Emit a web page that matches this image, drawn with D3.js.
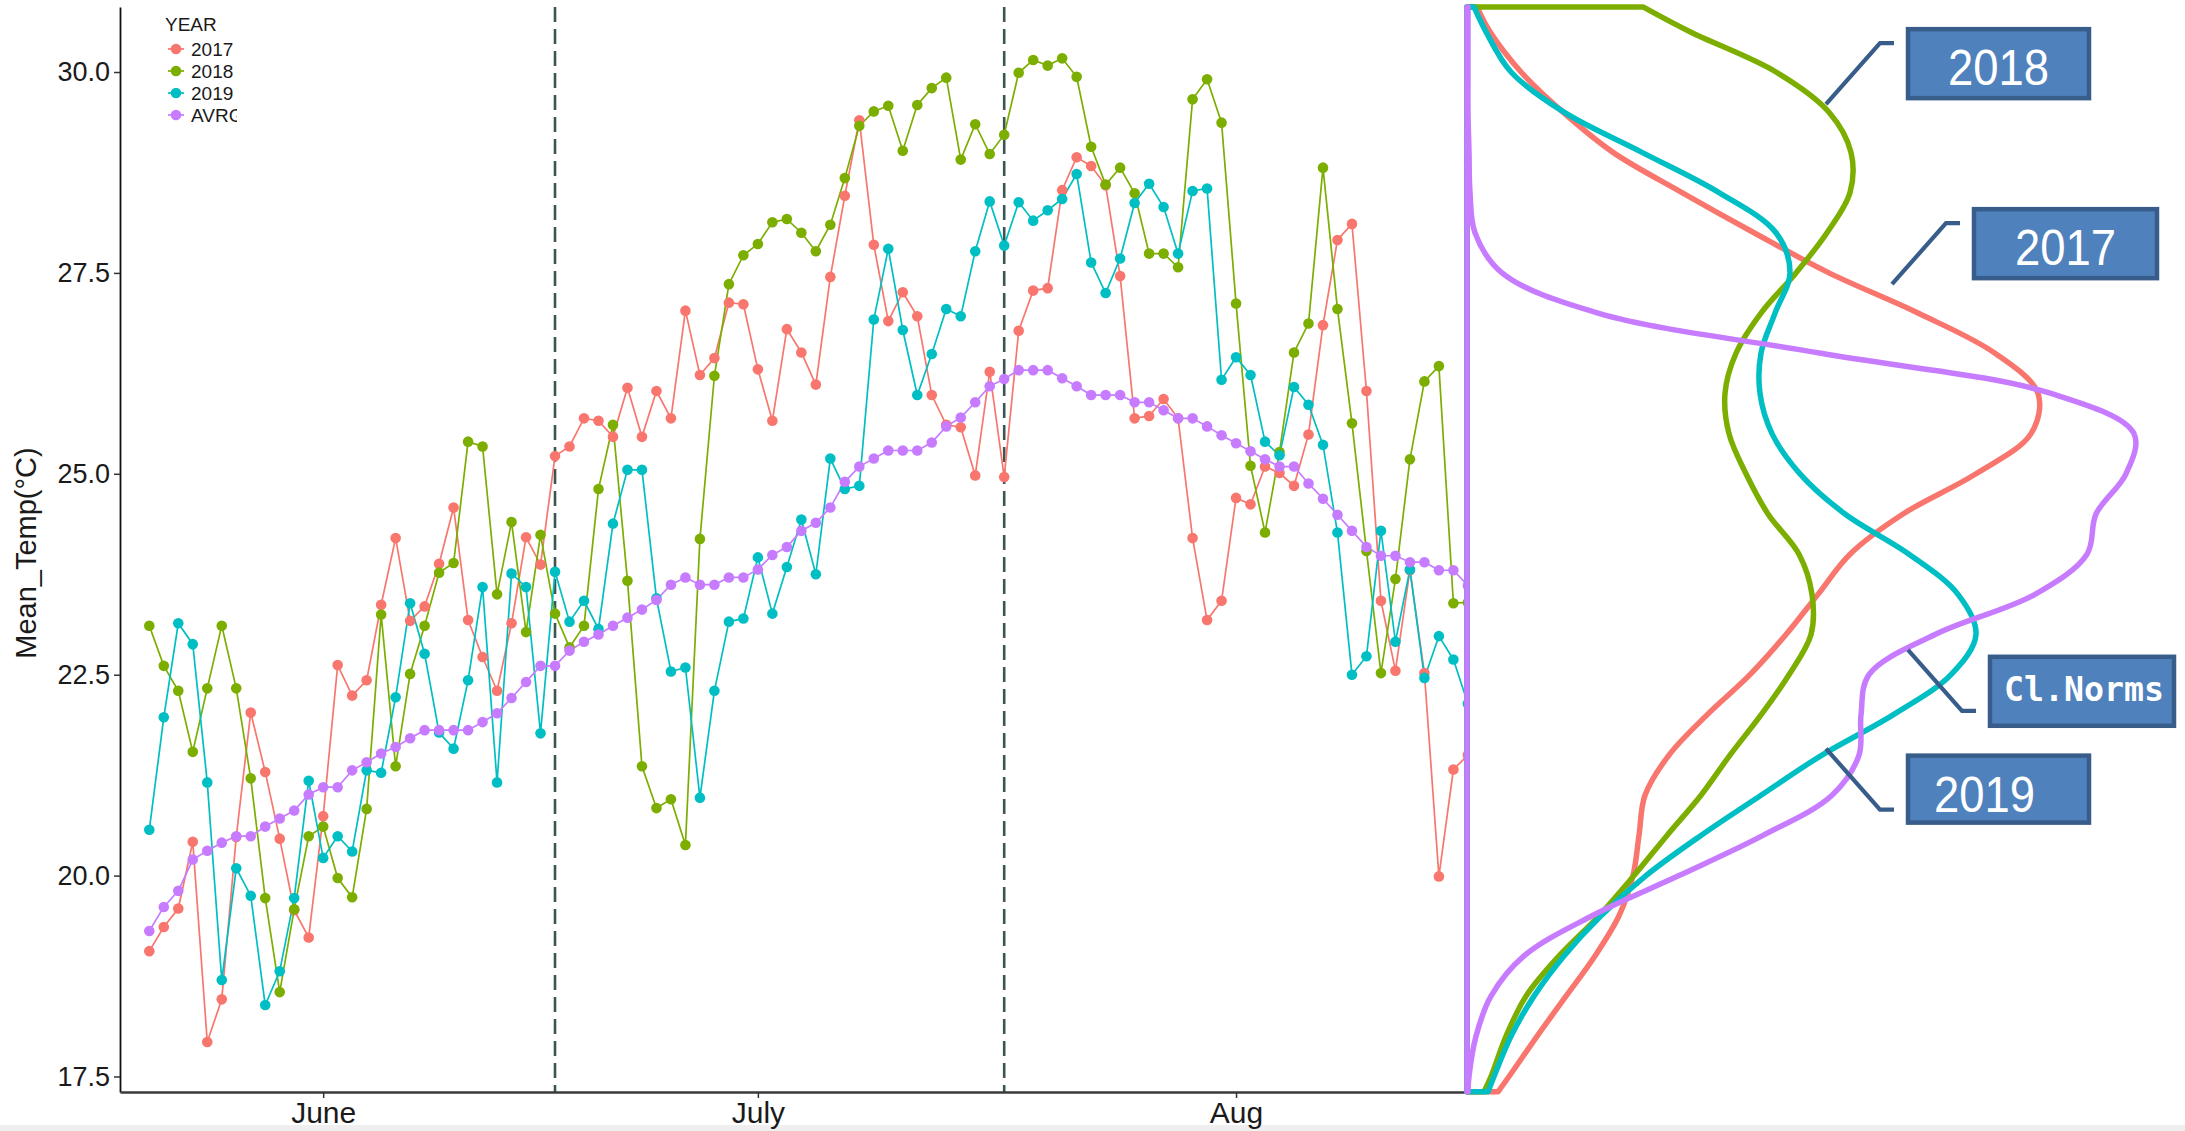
<!DOCTYPE html>
<html>
<head>
<meta charset="utf-8">
<script src="https://cdnjs.cloudflare.com/ajax/libs/d3/7.8.5/d3.min.js"></script>
<style>
  body { margin: 0; background: #fff; }
  svg { display: block; }
  text { font-family: "Liberation Sans", Arial, sans-serif; }
</style>
</head>
<body>
<svg id="chart" width="2185" height="1131"></svg>
<script>
const years = ['2017', '2018', '2019', 'AVRG'];
const colors = ['#F8766D', '#7CAE00', '#00BFC4', '#C77CFF'];

// daily mean temperature, one value per day (index 0 = first plotted day)
const t2017 = [19.06, 19.36, 19.59, 20.42, 17.93, 18.46, 20.48, 22.03, 21.29, 20.46,
  19.57, 19.23, 20.74, 22.62, 22.24, 22.43, 23.37, 24.20, 23.17, 23.35,
  23.88, 24.58, 23.18, 22.72, 22.30, 23.14, 24.21, 23.87, 25.22, 25.34,
  25.69, 25.66, 25.46, 26.07, 25.46, 26.03, 25.69, 27.03, 26.23, 26.44,
  27.13, 27.11, 26.30, 25.66, 26.80, 26.51, 26.11, 27.45, 28.46, 29.40,
  27.85, 26.90, 27.26, 26.96, 25.98, 25.61, 25.58, 24.98, 26.27, 24.96,
  26.78, 27.28, 27.31, 28.53, 28.94, 28.83, 28.59, 27.46, 25.69, 25.72,
  25.93, 25.69, 24.20, 23.18, 23.42, 24.70, 24.62, 25.09, 25.01, 24.85,
  25.49, 26.85, 27.91, 28.11, 26.03, 23.42, 22.55, 23.80, 22.52, 19.99,
  21.32, 21.50];
const t2018 = [23.11, 22.61, 22.30, 21.54, 22.33, 23.11, 22.33, 21.21, 19.72, 18.55,
  19.58, 20.49, 20.61, 19.97, 19.73, 20.83, 23.25, 21.36, 22.51, 23.11,
  23.77, 23.89, 25.40, 25.34, 23.50, 24.40, 23.03, 24.24, 23.26, 22.84,
  23.11, 24.81, 25.61, 23.67, 21.36, 20.84, 20.95, 20.38, 24.19, 26.22,
  27.36, 27.72, 27.86, 28.13, 28.17, 28.00, 27.77, 28.10, 28.68, 29.33,
  29.51, 29.58, 29.02, 29.59, 29.80, 29.93, 28.91, 29.35, 28.98, 29.22,
  29.99, 30.15, 30.08, 30.17, 29.94, 29.07, 28.60, 28.81, 28.49, 27.74,
  27.74, 27.57, 29.66, 29.91, 29.37, 27.12, 25.10, 24.27, 25.27, 26.51,
  26.87, 28.81, 27.05, 25.63, 24.04, 22.52, 23.69, 25.18, 26.15, 26.34,
  23.39, 23.40];
const t2019 = [20.57, 21.97, 23.14, 22.88, 21.16, 18.70, 20.09, 19.75, 18.39, 18.81,
  19.72, 21.18, 20.22, 20.49, 20.30, 21.31, 21.28, 22.22, 23.39, 22.76,
  21.78, 21.58, 22.43, 23.59, 21.16, 23.76, 23.59, 21.77, 23.78, 23.16,
  23.42, 23.07, 24.38, 25.05, 25.05, 23.45, 22.54, 22.59, 20.97, 22.30,
  23.16, 23.20, 23.96, 23.26, 23.84, 24.43, 23.75, 25.19, 24.81, 24.85,
  26.92, 27.80, 26.79, 25.98, 26.49, 27.05, 26.96, 27.77, 28.39, 27.84,
  28.38, 28.15, 28.28, 28.42, 28.73, 27.63, 27.25, 27.68, 28.37, 28.61,
  28.32, 27.74, 28.52, 28.55, 26.17, 26.45, 26.23, 25.40, 25.23, 26.08,
  25.86, 25.36, 24.27, 22.50, 22.73, 24.29, 22.91, 23.81, 22.46, 22.98,
  22.69, 22.14];
const tAvrg = [19.31, 19.61, 19.81, 20.20, 20.31, 20.41, 20.49, 20.49, 20.61, 20.71,
  20.81, 21.01, 21.10, 21.10, 21.31, 21.41, 21.52, 21.60, 21.71, 21.81,
  21.81, 21.81, 21.81, 21.91, 22.02, 22.21, 22.41, 22.61, 22.61, 22.80,
  22.91, 23.00, 23.11, 23.21, 23.31, 23.43, 23.62, 23.71, 23.62, 23.62,
  23.71, 23.71, 23.81, 23.99, 24.09, 24.29, 24.39, 24.58, 24.90, 25.09,
  25.19, 25.29, 25.29, 25.29, 25.39, 25.59, 25.70, 25.89, 26.09, 26.18,
  26.29, 26.29, 26.29, 26.19, 26.09, 25.98, 25.98, 25.98, 25.89, 25.89,
  25.79, 25.69, 25.69, 25.59, 25.48, 25.38, 25.28, 25.18, 25.09, 25.09,
  24.88, 24.69, 24.49, 24.29, 24.09, 23.98, 23.98, 23.90, 23.90, 23.80,
  23.80, 23.61];

const monthTicks = [12, 42, 75];
const monthLabels = ['June', 'July', 'Aug'];
const monthBreaks = [28, 59];
const yTicks = [17.5, 20, 22.5, 25, 27.5, 30];

// density curves (temperature grid and density per series)
const densT = [17.31, 17.5, 18, 18.5, 19, 19.5, 20, 20.5, 21, 21.5, 22, 22.5, 23, 23.5,
  24, 24.5, 25, 25.5, 26, 26.5, 27, 27.5, 28, 28.5, 29, 29.5, 30, 30.5, 30.81];
const dens2017 = [0.0155, 0.021, 0.035, 0.0495, 0.064, 0.076, 0.083, 0.086, 0.089, 0.101,
  0.120, 0.1415, 0.1595, 0.1755, 0.1915, 0.218, 0.2545, 0.282, 0.2855, 0.264,
  0.2255, 0.181, 0.1435, 0.1075, 0.073, 0.048, 0.027, 0.0115, 0.005];
const dens2018 = [0.0085, 0.012, 0.0195, 0.0295, 0.046, 0.066, 0.0835, 0.100, 0.117, 0.1315,
  0.147, 0.161, 0.172, 0.1725, 0.166, 0.1505, 0.1395, 0.131, 0.129, 0.1345,
  0.147, 0.1645, 0.180, 0.1915, 0.192, 0.181, 0.1545, 0.1115, 0.088];
const dens2019 = [0.0105, 0.0135, 0.022, 0.0335, 0.0485, 0.067, 0.0895, 0.117, 0.147, 0.1775,
  0.213, 0.242, 0.2545, 0.2455, 0.221, 0.189, 0.1665, 0.1525, 0.1465, 0.147,
  0.154, 0.1615, 0.1545, 0.126, 0.0875, 0.0485, 0.022, 0.0095, 0.0035];
const densAvrg = [0.0005, 0.001, 0.0045, 0.012, 0.0285, 0.0625, 0.106, 0.148, 0.1825, 0.196,
  0.197, 0.201, 0.234, 0.284, 0.310, 0.3145, 0.3295, 0.3335, 0.292, 0.177,
  0.0655, 0.0175, 0.004, 0.0015, 0.001, 0.0005, 0.0005, 0.0005, 0.0005];

// callout labels pointing at the density curves
const callouts = [
  { label: '2018', t: 29.60, d: 0.1795, up: true, w: 181, h: 69, mono: false },
  { label: '2017', t: 27.36, d: 0.2125, up: true, w: 183, h: 69, mono: false },
  { label: 'Cl.Norms', t: 22.81, d: 0.2205, up: false, w: 184, h: 69, mono: true },
  { label: '2019', t: 21.58, d: 0.1795, up: false, w: 181, h: 67, mono: false, left: true }
];

const series = [t2017, t2018, t2019, tAvrg];
const dens = [dens2017, dens2018, dens2019, densAvrg];

const svg = d3.select('#chart');
const defs = svg.append('defs');

const x = d3.scaleLinear().domain([-2.022, 90.87]).range([120, 1466]);
const y = d3.scaleLinear().domain([17.307, 30.809]).range([1092, 7]);
const xd = d3.scaleLinear().domain([0, 0.36]).range([1467, 2187]);

defs.append('clipPath').attr('id', 'mainClip')
  .append('rect').attr('x', 120).attr('y', 0).attr('width', 1346).attr('height', 1092);
defs.append('clipPath').attr('id', 'densClip')
  .append('rect').attr('x', 1462).attr('y', 2).attr('width', 730).attr('height', 1093);
defs.append('clipPath').attr('id', 'legClip')
  .append('rect').attr('x', 150).attr('y', 0).attr('width', 87).attr('height', 130);

// faint strip at the bottom
svg.append('rect').attr('x', 0).attr('y', 1125).attr('width', 2185).attr('height', 6).attr('fill', '#efefef');

// month breaks
svg.append('g').selectAll('line').data(monthBreaks).enter().append('line')
  .attr('x1', d => x(d)).attr('x2', d => x(d))
  .attr('y1', 7).attr('y2', 1092)
  .attr('stroke', '#3a5552').attr('stroke-width', 2.6)
  .attr('stroke-dasharray', '15,7');

const main = svg.append('g').attr('clip-path', 'url(#mainClip)');
const line = d3.line().x((d, i) => x(i)).y(d => y(d));

main.selectAll('path.series').data(series).enter().append('path')
  .attr('class', 'series')
  .attr('d', line)
  .attr('fill', 'none')
  .attr('stroke', (d, i) => colors[i])
  .attr('stroke-width', 1.7);

series.forEach((s, k) => {
  main.append('g').selectAll('circle').data(s).enter().append('circle')
    .attr('cx', (d, i) => x(i))
    .attr('cy', d => y(d))
    .attr('r', 5.3)
    .attr('fill', colors[k]);
});

// axes
const yAxis = svg.append('g').attr('transform', 'translate(120,0)')
  .call(d3.axisLeft(y).tickValues(yTicks).tickFormat(d3.format('.1f')).tickSize(6).tickSizeOuter(0).tickPadding(4));
yAxis.select('.domain').attr('stroke', '#111').attr('stroke-width', 1.8);
yAxis.selectAll('.tick line').attr('stroke', '#333').attr('stroke-width', 1.5);
yAxis.selectAll('.tick text').attr('font-size', 27).attr('fill', '#1a1a1a');

const xAxis = svg.append('g').attr('transform', 'translate(0,1092)')
  .call(d3.axisBottom(x).tickValues(monthTicks).tickFormat((d, i) => monthLabels[i]).tickSize(6).tickSizeOuter(0).tickPadding(4));
xAxis.select('.domain').attr('stroke', '#3a3a3a').attr('stroke-width', 2.6);
xAxis.selectAll('.tick line').attr('stroke', '#333').attr('stroke-width', 1.5);
xAxis.selectAll('.tick text').attr('font-size', 30).attr('fill', '#1a1a1a');

svg.append('text')
  .attr('transform', 'translate(36,553) rotate(-90)')
  .attr('text-anchor', 'middle')
  .attr('font-size', 29)
  .attr('fill', '#1a1a1a')
  .text('Mean_Temp(°C)');

// legend
const leg = svg.append('g').attr('clip-path', 'url(#legClip)');
leg.append('text').attr('x', 165).attr('y', 31).attr('font-size', 19).attr('fill', '#1a1a1a').text('YEAR');
years.forEach((yr, i) => {
  const cy = 49 + i * 22;
  leg.append('line').attr('x1', 168).attr('x2', 184).attr('y1', cy).attr('y2', cy)
    .attr('stroke', colors[i]).attr('stroke-width', 1.7);
  leg.append('circle').attr('cx', 176).attr('cy', cy).attr('r', 5.3).attr('fill', colors[i]);
  leg.append('text').attr('x', 191).attr('y', cy + 7).attr('font-size', 19).attr('fill', '#1a1a1a').text(yr);
});

// density panel
const densG = svg.append('g').attr('clip-path', 'url(#densClip)');
const area = d3.area()
  .y(d => y(d[0]))
  .x0(xd(0))
  .x1(d => xd(d[1]))
  .curve(d3.curveCatmullRom.alpha(0.5));

dens.forEach((ds, k) => {
  densG.append('path')
    .attr('d', area(densT.map((t, i) => [t, ds[i]])))
    .attr('fill', 'none')
    .attr('stroke', colors[k])
    .attr('stroke-width', 5.5)
    .attr('stroke-linejoin', 'round');
});

// callouts
const cg = svg.append('g');
callouts.forEach(c => {
  const tx = xd(c.d), ty = y(c.t);
  const ex = tx + 54, ey = ty + (c.up ? -61 : 61);
  const sx = ex + 14;
  cg.append('path')
    .attr('d', `M${tx},${ty}L${ex},${ey}L${sx},${ey}`)
    .attr('fill', 'none').attr('stroke', '#385D8A').attr('stroke-width', 4.2);
  const bx = sx + 14, by = c.up ? ey - 14 : ey - 54;
  cg.append('rect')
    .attr('x', bx).attr('y', by).attr('width', c.w).attr('height', c.h)
    .attr('fill', '#4F81BD').attr('stroke', '#385D8A').attr('stroke-width', 4.5);
  if (c.mono) {
    cg.append('text').attr('x', bx + 14).attr('y', by + 44)
      .style('font-family', '"DejaVu Sans Mono", "Liberation Mono", monospace')
      .style('font-weight', 'bold')
      .attr('font-size', 34).attr('fill', '#fff')
      .attr('textLength', 160).attr('lengthAdjust', 'spacingAndGlyphs')
      .text(c.label);
  } else {
    const t = cg.append('text')
      .attr('y', by + 56)
      .attr('font-size', 50).attr('fill', '#fff')
      .attr('textLength', 101).attr('lengthAdjust', 'spacingAndGlyphs')
      .text(c.label);
    if (c.left) t.attr('x', bx + 26);
    else t.attr('x', bx + c.w / 2).attr('text-anchor', 'middle');
  }
});
</script>
</body>
</html>
